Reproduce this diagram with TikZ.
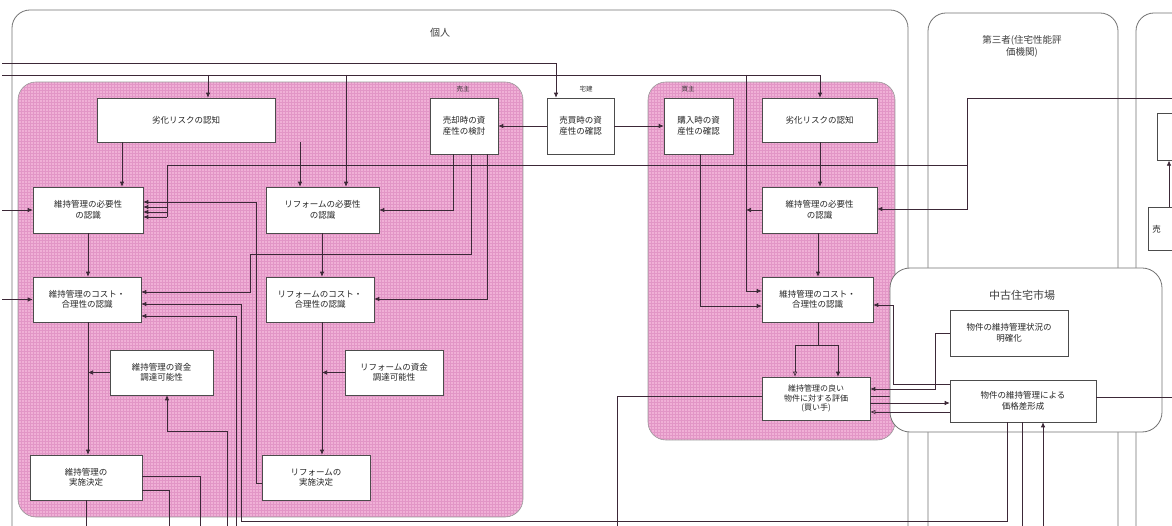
\documentclass[tikz,border=0pt]{standalone}
\usepackage{fontspec}
\newfontfamily\jp{Noto Sans CJK JP}
\usetikzlibrary{arrows.meta}
\pgfdeclarelayer{bg}
\pgfdeclarelayer{mid}
\pgfsetlayers{bg,mid,main}
\definecolor{pinkfill}{RGB}{240,176,214}
\definecolor{pinkgrid}{RGB}{226,150,198}
\definecolor{ln}{RGB}{60,40,55}
\definecolor{framec}{RGB}{115,115,115}
\begin{document}
\begin{tikzpicture}[x=1pt,y=-1pt,
  box/.style={draw=black!70, fill=white, line width=0.6pt, align=center, inner sep=0pt,
              font=\jp\fontsize{8.5}{10.5}\selectfont, text=black!85},
  con/.style={draw=ln, line width=0.65pt},
  ar/.style={con, -{Latex[length=5pt,width=4.5pt]}},
  oar/.style={con, -{Latex[open,length=5pt,width=4.5pt]}},
  lbl/.style={font=\jp\fontsize{6.5}{7}\selectfont, text=black!80},
  frm/.style={draw=framec, line width=0.8pt},
  pinkbox/.style={draw=black!40, line width=0.6pt, rounded corners=18pt}]
\useasboundingbox (0,0) rectangle (1172,526);

% ---------- frames ----------
\begin{pgfonlayer}{bg}
  \fill[white] (0,0) rectangle (1172,526);
  \draw[frm, rounded corners=18pt] (12,10) rectangle (908,620);
  \draw[frm, rounded corners=18pt] (928,13) rectangle (1118,620);
  \draw[frm, rounded corners=18pt] (1136,13) rectangle (1300,620);
  \begin{scope}
    \clip[rounded corners=18pt] (18,82) rectangle (523,517);
    \fill[pinkfill] (18,82) rectangle (523,517);
    \draw[pinkgrid, line width=0.3pt, step=3pt] (18,82) grid (523,517);
  \end{scope}
  \path[pinkbox] (18,82) rectangle (523,517);
  \begin{scope}
    \clip[rounded corners=18pt] (648,82) rectangle (895,440);
    \fill[pinkfill] (648,82) rectangle (895,440);
    \draw[pinkgrid, line width=0.3pt, step=3pt] (648,82) grid (895,440);
  \end{scope}
  \path[pinkbox] (648,82) rectangle (895,440);
  % line passing under the evaluation box
  \draw[ar] (617,540) -- (617,396) -- (950,396);
\end{pgfonlayer}
\begin{pgfonlayer}{mid}
  \draw[frm, fill=white, rounded corners=20pt] (890,268) rectangle (1162,432);
\end{pgfonlayer}

% ---------- labels ----------
\node[font=\jp\fontsize{10}{12}\selectfont, text=black!75] (lblK) at (440,33) {個人};
\node[font=\jp\fontsize{9.5}{12}\selectfont, text=black!75, align=center] (lblT) at (1022,46) {第三者(住宅性能評\\価機関)};
\node[font=\jp\fontsize{11}{13}\selectfont, text=black!75] (lblM) at (1022,295) {中古住宅市場};
\node[lbl] (lblS) at (463,89) {売主};
\node[lbl] (lblB) at (586,89) {宅建};
\node[lbl] (lblP) at (688,89) {買主};

% ---------- boxes ----------
\node[box, minimum width=178pt, minimum height=44pt] (A1) at (186,120) {劣化リスクの認知};
\node[box, minimum width=68pt, minimum height=56pt] (A2) at (464,126) {売却時の資\\産性の検討};
\node[box, minimum width=67pt, minimum height=56pt] (T) at (580.5,126) {売買時の資\\産性の確認};
\node[box, minimum width=69pt, minimum height=56pt] (P) at (698.5,126) {購入時の資\\産性の確認};
\node[box, minimum width=115pt, minimum height=44pt] (BA1) at (819.5,120) {劣化リスクの認知};

\node[box, minimum width=110pt, minimum height=46pt] (B1) at (88,210) {維持管理の必要性\\の認識};
\node[box, minimum width=113pt, minimum height=46pt] (B2) at (322.5,210) {リフォームの必要性\\の認識};
\node[box, minimum width=115pt, minimum height=46pt] (BB) at (819.5,210) {維持管理の必要性\\の認識};

\node[box, minimum width=108pt, minimum height=45pt] (C1) at (87,299.5) {維持管理のコスト・\\合理性の認識};
\node[box, minimum width=108pt, minimum height=45pt] (C2) at (320,299.5) {リフォームのコスト・\\合理性の認識};
\node[box, minimum width=111pt, minimum height=45pt] (BC) at (817.5,299.5) {維持管理のコスト・\\合理性の認識};

\node[box, minimum width=103pt, minimum height=45pt] (D1) at (161.5,372.5) {維持管理の資金\\調達可能性};
\node[box, minimum width=98pt, minimum height=45pt] (D2) at (394,372.5) {リフォームの資金\\調達可能性};
\node[box, minimum width=108pt, minimum height=43pt, font=\jp\fontsize{8}{9.5}\selectfont] (BD) at (816,398.5) {維持管理の良い\\物件に対する評価\\(買い手)};

\node[box, minimum width=112pt, minimum height=45pt] (E1) at (86,477.5) {維持管理の\\実施決定};
\node[box, minimum width=108pt, minimum height=45pt] (E2) at (316,477.5) {リフォームの\\実施決定};

\node[box, minimum width=118pt, minimum height=46pt] (M1) at (1009,333) {物件の維持管理状況の\\明確化};
\node[box, minimum width=146pt, minimum height=42pt] (M2) at (1023,401) {物件の維持管理による\\価格差形成};

\node[box, anchor=north west, minimum width=60pt, minimum height=47pt] (R1) at (1157,113) {};
\node[box, anchor=north west, minimum width=60pt, minimum height=43pt, text width=60pt, align=left] (R2) at (1148,207) {\hspace*{4pt}売};

% ---------- connectors ----------
\draw[ar] (2,63) -- (556,63) -- (556,0 |- T.north);
\draw[ar] (2,75) -- (820,75) -- (820,0 |- BA1.north);
\draw[ar] (208,75) -- (208,0 |- A1.north);
\draw[ar] (346,75) -- (346,0 |- B2.north);
\draw[ar] (746,75) -- (746,291) -- (BC.west |- 0,291);

\draw[ar] (122,0 |- A1.south) -- (122,0 |- B1.north);
\draw[ar] (300,0 |- A1.south) -- (300,0 |- B2.north);
\draw[ar] (453,0 |- A2.south) -- (453,210) -- (B2.east);
\draw[ar] (471,0 |- A2.south) -- (471,254) -- (250,254) -- (250,292) -- (C1.east |- 0,292);
\draw[ar] (487,0 |- A2.south) -- (487,299) -- (C2.east |- 0,299);
\draw[ar] (T.west) -- (A2.east);
\draw[ar] (T.east) -- (P.west);
\draw[ar] (700,0 |- P.south) -- (700,306) -- (BC.west |- 0,306);
\draw[ar] (820,0 |- BA1.south) -- (820,0 |- BB.north);
\draw[ar] (818,0 |- BB.south) -- (818,0 |- BC.north);
\draw[ar] (BB.west) -- (746,210);
\draw[ar] (1180,98) -- (967,98) -- (967,209) -- (BB.east |- 0,209);
\draw[con] (967,165) -- (167,165);
\draw[ar] (167,165) -- (167,207) -- (B1.east |- 0,207);
\draw[con] (167,207) -- (167,217);
\draw[ar] (167,212) -- (B1.east |- 0,212);
\draw[ar] (167,217) -- (B1.east |- 0,217);
\draw[ar] (E2.west |- 0,483) -- (256,483) -- (256,202) -- (B1.east |- 0,202);

\draw[ar] (2,210) -- (B1.west);
\draw[ar] (2,299.5) -- (C1.west);
\draw[ar] (88,0 |- B1.south) -- (88,0 |- C1.north);
\draw[ar] (88,0 |- C1.south) -- (88,0 |- E1.north);
\draw[ar] (D1.west) -- (88,372.5);
\draw[ar] (322,0 |- B2.south) -- (322,0 |- C2.north);
\draw[ar] (322,0 |- C2.south) -- (322,0 |- E2.north);
\draw[ar] (D2.west) -- (322,372.5);

\draw[ar] (1007,0 |- M2.south) -- (1007,521) -- (241,521) -- (241,304) -- (C1.east |- 0,304);
\draw[ar] (236,540) -- (236,316) -- (C1.east |- 0,316);
\draw[ar] (227,540) -- (227,431) -- (167,431) -- (167,0 |- D1.south);
\draw[con] (E1.east |- 0,476) -- (200,476) -- (200,540);
\draw[con] (E1.east |- 0,490) -- (169,490) -- (169,540);
\draw[con] (86,0 |- E1.south) -- (86,540);

\draw[con] (818,0 |- BC.south) -- (818,345);
\draw[con] (795,345) -- (838,345);
\draw[oar] (795,345) -- (795,0 |- BD.north);
\draw[ar] (838,345) -- (838,0 |- BD.north);
\draw[ar] (M2.west |- 0,384) -- (893,384) -- (893,305) -- (BC.east |- 0,305);
\draw[ar] (M1.west) -- (935,333) -- (935,389) -- (BD.east |- 0,389);
\draw[ar] (BD.east |- 0,403) -- (M2.west |- 0,403);
\draw[oar] (M2.west |- 0,412) -- (BD.east |- 0,412);
\draw[con] (M2.east |- 0,397) -- (1180,397);
\draw[con] (1022,0 |- M2.south) -- (1022,540);
\draw[ar] (1043,540) -- (1043,0 |- M2.south);

\draw[ar] (1169,0 |- R2.north) -- (1169,0 |- R1.south);
\end{tikzpicture}
\end{document}
